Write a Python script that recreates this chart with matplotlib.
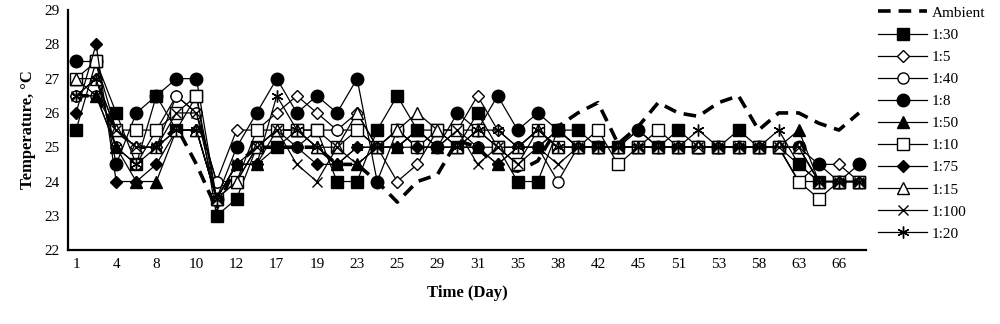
import matplotlib
matplotlib.use("Agg")
from matplotlib import pyplot as plt

# x categories (days); only every second one is labelled on the axis
days = [1, 2, 4, 6, 8, 9, 10, 11, 12, 15, 17, 18, 19, 21, 23, 24, 25, 27, 29, 30,
        31, 33, 35, 36, 38, 40, 42, 43, 45, 48, 51, 52, 53, 55, 58, 60, 63, 64, 66, 67]
tick_labels = ["1", "4", "8", "10", "12", "17", "19", "23", "25", "29",
               "31", "35", "38", "42", "45", "51", "53", "58", "63", "66"]

ambient = [26.5, 26.5, 25.5, 25.0, 25.0, 25.6, 24.5, 23.2, 24.5, 25.0,
           25.0, 25.0, 25.0, 24.5, 24.5, 24.0, 23.4, 24.0, 24.2, 25.2,
           25.0, 24.4, 24.3, 24.6, 25.6, 26.0, 26.3, 25.1, 25.6, 26.3,
           26.0, 25.9, 26.3, 26.5, 25.5, 26.0, 26.0, 25.7, 25.5, 26.0]
r1_30 = [25.5, 27.5, 26.0, 24.5, 26.5, 25.5, 26.5, 23.0, 23.5, 25.0,
         25.0, 25.5, 25.5, 24.0, 24.0, 25.5, 26.5, 25.5, 25.5, 25.0,
         26.0, 25.0, 24.0, 24.0, 25.5, 25.5, 25.0, 25.0, 25.0, 25.0,
         25.5, 25.0, 25.0, 25.5, 25.0, 25.0, 24.5, 24.0, 24.0, 24.0]
r1_5 = [26.5, 27.0, 25.5, 25.0, 25.0, 26.5, 26.0, 24.0, 25.5, 25.5,
        26.0, 26.5, 26.0, 25.5, 26.0, 25.0, 24.0, 24.5, 25.5, 25.5,
        26.5, 25.5, 25.0, 25.5, 25.0, 25.0, 25.0, 25.0, 25.0, 25.0,
        25.0, 25.0, 25.0, 25.0, 25.0, 25.0, 24.0, 24.5, 24.5, 24.0]
r1_40 = [26.5, 26.5, 25.0, 24.5, 25.5, 26.5, 26.0, 24.0, 24.0, 25.0,
         25.5, 25.0, 25.5, 25.5, 25.5, 25.0, 25.5, 25.0, 25.0, 25.5,
         25.0, 25.0, 25.0, 25.0, 24.0, 25.0, 25.0, 25.0, 25.0, 25.0,
         25.0, 25.0, 25.0, 25.0, 25.0, 25.0, 24.0, 24.0, 24.0, 24.0]
r1_8 = [27.5, 27.5, 24.5, 26.0, 26.5, 27.0, 27.0, 23.5, 25.0, 26.0,
        27.0, 26.0, 26.5, 26.0, 27.0, 24.0, 25.5, 25.0, 25.0, 26.0,
        25.5, 26.5, 25.5, 26.0, 25.5, 25.0, 25.0, 25.0, 25.5, 25.0,
        25.0, 25.0, 25.0, 25.0, 25.0, 25.0, 25.0, 24.5, 24.0, 24.5]
r1_50 = [27.0, 26.5, 25.0, 24.0, 24.0, 25.5, 25.5, 23.5, 24.5, 24.5,
         25.5, 25.5, 25.0, 24.5, 24.5, 25.0, 25.0, 25.5, 25.0, 25.0,
         25.0, 24.5, 25.0, 25.0, 25.5, 25.0, 25.0, 25.0, 25.0, 25.0,
         25.0, 25.0, 25.0, 25.0, 25.0, 25.0, 25.5, 24.0, 24.0, 24.0]
r1_10 = [27.0, 27.5, 25.5, 25.5, 25.5, 26.0, 26.5, 23.5, 24.0, 25.5,
         25.5, 25.5, 25.5, 25.0, 25.5, 25.0, 25.5, 25.0, 25.5, 25.5,
         25.5, 25.0, 24.5, 25.5, 25.0, 25.0, 25.5, 24.5, 25.0, 25.5,
         25.0, 25.0, 25.0, 25.0, 25.0, 25.0, 24.0, 23.5, 24.0, 24.0]
r1_75 = [26.0, 28.0, 24.0, 24.0, 24.5, 25.5, 25.5, 23.5, 24.5, 24.5,
         25.0, 25.0, 24.5, 24.5, 25.0, 25.0, 25.0, 25.0, 25.0, 25.0,
         25.0, 24.5, 25.0, 25.0, 25.5, 25.0, 25.0, 25.0, 25.5, 25.0,
         25.0, 25.0, 25.0, 25.0, 25.0, 25.0, 25.0, 24.0, 24.0, 24.0]
r1_15 = [27.0, 27.0, 25.5, 25.0, 25.0, 25.5, 25.5, 23.5, 24.0, 25.0,
         25.5, 25.5, 25.0, 25.0, 26.0, 25.0, 25.5, 26.0, 25.5, 25.0,
         25.5, 25.0, 25.0, 25.5, 25.0, 25.0, 25.0, 25.0, 25.0, 25.0,
         25.0, 25.0, 25.0, 25.0, 25.0, 25.0, 25.0, 24.0, 24.0, 24.0]
r1_100 = [26.5, 26.5, 25.5, 25.0, 25.0, 26.0, 26.0, 23.5, 24.5, 25.0,
          25.5, 24.5, 24.0, 25.0, 24.5, 25.0, 25.0, 25.5, 25.0, 25.5,
          24.5, 25.0, 24.5, 25.0, 24.5, 25.0, 25.0, 25.0, 25.0, 25.0,
          25.0, 25.0, 25.0, 25.0, 25.0, 25.0, 25.0, 24.0, 24.0, 24.0]
r1_20 = [26.5, 27.0, 25.0, 24.5, 25.0, 25.5, 25.5, 23.5, 24.5, 24.5,
         26.5, 25.5, 25.0, 24.5, 25.0, 25.0, 25.0, 25.5, 25.0, 25.0,
         25.5, 25.5, 25.0, 25.5, 25.0, 25.0, 25.0, 25.0, 25.0, 25.0,
         25.0, 25.5, 25.0, 25.0, 25.0, 25.5, 24.5, 24.0, 24.0, 24.0]

series = [
    ("1:30", r1_30, "s", "black", 8.5),
    ("1:5", r1_5, "D", "white", 6),
    ("1:40", r1_40, "o", "white", 8),
    ("1:8", r1_8, "o", "black", 9),
    ("1:50", r1_50, "^", "black", 8.5),
    ("1:10", r1_10, "s", "white", 8.5),
    ("1:75", r1_75, "D", "black", 6),
    ("1:15", r1_15, "^", "white", 8.5),
    ("1:100", r1_100, "x", "black", 7.5),
    ("1:20", r1_20, (6, 2, 0), "black", 8.5),
]

plt.rcParams['font.family'] = ['Liberation Serif', 'DejaVu Serif']

fig = plt.figure(figsize=(10, 3.24), dpi=100)
ax = fig.add_axes([0.068, 0.228, 0.798, 0.741])

x = list(range(len(days)))
ax.plot(x, ambient, color="black", lw=2.6, linestyle=(0, (3.5, 2.2)),
        label="Ambient", zorder=1)
for name, vals, mk, fc, ms in series:
    ax.plot(x, vals, color="black", lw=0.9, marker=mk, markersize=ms,
            markerfacecolor=fc, markeredgecolor="black", markeredgewidth=1.0,
            label=name, zorder=2)

ax.set_xlim(-0.4, len(days) - 0.65)
ax.set_ylim(22, 29)
ax.set_xticks(x[::2])
ax.set_xticklabels(tick_labels)
ax.set_yticks(range(22, 30))
ax.tick_params(length=0, labelsize=11, pad=6)
for s in ["top", "right"]:
    ax.spines[s].set_visible(False)
ax.spines["left"].set_linewidth(1.6)
ax.spines["bottom"].set_linewidth(1.6)

ax.set_xlabel("Time (Day)", fontsize=12, fontweight="bold", labelpad=10)
ax.set_ylabel("Temperature, \u00b0C", fontsize=12, fontweight="bold", labelpad=6)

fig.legend(loc="upper left", bbox_to_anchor=(0.872, 1.0), frameon=False,
           fontsize=11, handlelength=3.2, handletextpad=0.3, labelspacing=0.55,
           numpoints=1, borderaxespad=0.0)

fig.savefig("out.png", dpi=100)
